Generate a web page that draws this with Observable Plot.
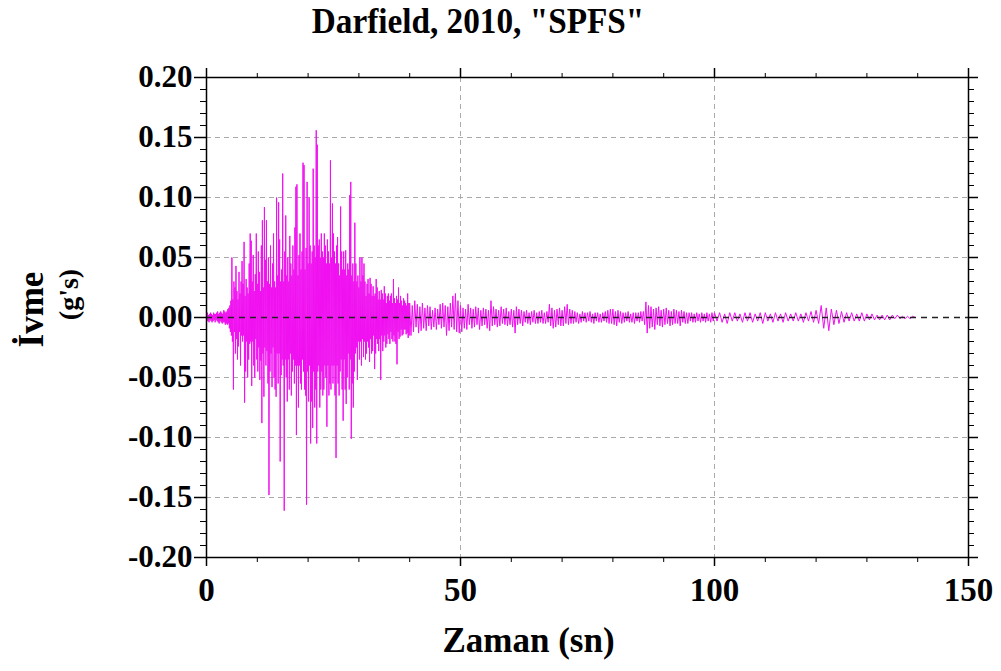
<!DOCTYPE html>
<html>
<head>
<meta charset="utf-8">
<script src="https://cdn.jsdelivr.net/npm/d3@7"></script>
<script src="https://cdn.jsdelivr.net/npm/@observablehq/plot@0.6"></script>
<style>
  body { margin: 0; background: #fff; }
  #wrap { position: relative; width: 1001px; height: 671px; font-family: "Liberation Serif", "Times New Roman", serif; }
  #title { position: relative; height: 56px; }
  #title div { position: absolute; left: 0; width: 956px; top: 4px; text-align: center; font-size: 35px; line-height: 35px; font-weight: bold; color: #000; transform: scaleX(0.95); transform-origin: 478px 0; }
</style>
</head>
<body>
<div id="wrap">
  <div id="title"><div>Darfield, 2010, "SPFS"</div></div>
  <div id="chart"></div>
</div>
<script>
// Strong-motion part: samples every 0.1 s from 0 s (acceleration in g), one row per second
const strongStart = 0;
const strongDt = 0.1;
const strongAccel = [
  0.002,-0.003,0.004,-0.003,0.002,-0.004,0.003,-0.002,0.004,-0.003,
  0.003,-0.004,0.002,-0.003,0.004,-0.002,0.003,-0.004,0.003,-0.002,
  0.004,-0.003,0.005,-0.004,0.003,-0.005,0.004,-0.003,0.005,-0.004,
  0.004,-0.005,0.003,-0.004,0.006,-0.004,0.005,-0.006,0.004,-0.005,
  0.005,-0.006,0.007,-0.005,0.008,-0.009,0.010,-0.012,0.014,-0.015,
  0.050,-0.020,0.015,-0.060,0.030,-0.012,0.025,-0.030,0.043,-0.018,
  0.022,-0.035,0.015,-0.024,0.038,-0.012,0.020,-0.040,0.030,-0.015,
  0.047,-0.020,0.028,-0.015,0.063,-0.071,0.018,-0.045,0.032,-0.020,
  0.025,-0.050,0.020,-0.035,0.045,-0.022,0.070,-0.020,0.064,-0.057,
  0.030,-0.020,0.052,-0.040,0.022,-0.050,0.036,-0.018,0.070,-0.035,
  0.028,-0.045,0.055,-0.025,0.038,-0.052,0.022,-0.036,0.060,-0.088,
  0.081,-0.030,0.025,-0.066,0.092,-0.025,0.048,-0.040,0.081,-0.028,
  0.030,-0.055,0.050,-0.148,0.028,-0.045,0.060,-0.030,0.025,-0.058,
  0.045,-0.025,0.070,-0.050,0.030,-0.060,0.025,-0.066,0.100,-0.030,
  0.035,-0.055,0.096,-0.030,0.065,-0.120,0.030,-0.048,0.040,-0.035,
  0.120,-0.040,0.030,-0.161,0.055,-0.035,0.085,-0.050,0.035,-0.070,
  0.050,-0.035,0.030,-0.060,0.068,-0.030,0.045,-0.065,0.035,-0.045,
  0.060,-0.035,0.040,-0.055,0.075,-0.040,0.109,-0.098,0.111,-0.040,
  0.035,-0.075,0.052,-0.040,0.070,-0.055,0.040,-0.060,0.055,-0.035,
  0.129,-0.045,0.127,-0.060,0.040,-0.065,0.058,-0.156,0.113,-0.045,
  0.045,-0.070,0.100,-0.040,0.060,-0.105,0.045,-0.070,0.055,-0.092,
  0.124,-0.045,0.060,-0.075,0.050,-0.060,0.156,-0.105,0.144,-0.045,
  0.060,-0.040,0.065,-0.075,0.050,-0.060,0.070,-0.045,0.055,-0.065,
  0.050,-0.060,0.070,-0.040,0.060,-0.050,0.045,-0.091,0.065,-0.040,
  0.055,-0.065,0.045,-0.055,0.131,-0.060,0.050,-0.040,0.095,-0.055,
  0.070,-0.040,0.055,-0.065,0.045,-0.117,0.060,-0.040,0.067,-0.055,
  0.045,-0.065,0.035,-0.045,0.0925,-0.035,0.055,-0.060,0.040,-0.086,
  0.055,-0.035,0.040,-0.060,0.056,-0.072,0.035,-0.050,0.045,-0.030,
  0.040,-0.060,0.102,-0.035,0.113,-0.101,0.035,-0.055,0.045,-0.075,
  0.030,-0.045,0.079,-0.030,0.045,-0.025,0.030,-0.052,0.035,-0.020,
  0.025,-0.035,0.050,-0.020,0.030,-0.040,0.050,-0.018,0.035,-0.033,
  0.045,-0.020,0.030,-0.035,0.018,-0.030,0.028,-0.020,0.032,-0.025,
  0.020,-0.037,0.033,-0.018,0.028,-0.030,0.018,-0.028,0.026,-0.015,
  0.018,-0.043,0.020,-0.030,0.032,-0.018,0.025,-0.022,0.015,-0.028,
  0.022,-0.018,0.015,-0.052,0.023,-0.015,0.020,-0.028,0.015,-0.020,
  0.026,-0.015,0.020,-0.025,0.012,-0.022,0.018,-0.014,0.020,-0.018,
  0.014,-0.022,0.018,-0.012,0.020,-0.018,0.012,-0.020,0.032,-0.015,
  0.016,-0.020,0.012,-0.022,0.018,-0.039,0.015,-0.012,0.025,-0.018,
  0.012,-0.016,0.018,-0.010,0.014,-0.015,0.010,-0.014,0.016,-0.010,
  0.014,-0.010,0.012,-0.014,0.010,-0.013,0.020,-0.017,0.012,-0.015
];
// Early coda: samples every 0.25 s from 40 s, one row per 2.5 seconds
const codaStart = 40;
const codaDt = 0.25;
const codaAccel = [
  0.012,-0.015,0.010,-0.012,0.014,-0.008,0.011,-0.013,0.009,-0.011,
  0.012,-0.009,0.008,-0.011,0.010,-0.007,0.009,-0.010,0.006,-0.008,
  0.008,-0.010,0.007,-0.006,0.011,-0.009,0.012,-0.008,0.010,-0.015,
  0.009,-0.011,0.012,-0.008,0.018,-0.010,0.020,-0.012,0.014,-0.013,
  0.010,-0.012,0.008,-0.009,0.007,-0.010,0.011,-0.006,0.008,-0.009,
  0.007,-0.008,0.009,-0.006,0.008,-0.010,0.006,-0.007,0.008,-0.006,
  0.007,-0.009,0.006,-0.011,0.014,-0.007,0.009,-0.006,0.007,-0.008,
  0.006,-0.007,0.009,-0.005,0.007,-0.006,0.008,-0.007,0.005,-0.006,
  0.007,-0.008,0.006,-0.013,0.009,-0.006,0.007,-0.005,0.006,-0.007,
  0.005,-0.004,0.006,-0.005,0.004,-0.006,0.005,-0.004,0.006,-0.005,
  0.004,-0.005,0.005,-0.004,0.006,-0.005,0.004,-0.005,0.005,-0.004,
  0.011,-0.007,0.008,-0.009,0.006,-0.008,0.007,-0.006,0.008,-0.007,
  0.006,-0.007,0.009,-0.005,0.011,-0.006,0.007,-0.005,0.006,-0.005,
  0.005,-0.004,0.004,-0.005,0.003,-0.004,0.005,-0.003,0.004,-0.004,
  0.004,-0.003,0.005,-0.004,0.003,-0.005,0.004,-0.003,0.004,-0.004,
  0.003,-0.004,0.004,-0.003,0.005,-0.004,0.006,-0.005,0.007,-0.005,
  0.007,-0.006,0.005,-0.007,0.006,-0.004,0.005,-0.005,0.004,-0.004,
  0.004,-0.003,0.005,-0.004,0.003,-0.004,0.004,-0.005,0.004,-0.003,
  0.004,-0.004,0.005,-0.003,0.005,-0.006,0.013,-0.013,0.010,-0.009,
  0.009,-0.008,0.007,-0.010,0.008,-0.006,0.009,-0.007,0.006,-0.008,
  0.007,-0.006,0.008,-0.005,0.006,-0.007,0.005,-0.006,0.007,-0.005,
  0.006,-0.005,0.005,-0.007,0.006,-0.004,0.005,-0.005,0.004,-0.005,
  0.004,-0.003,0.004,-0.004,0.003,-0.004,0.004,-0.003,0.003,-0.004,
  0.004,-0.003,0.003,-0.004,0.004,-0.003,0.003,-0.004,0.004,-0.003
];
// Late coda: samples every 0.5 s from 100 s, one row per 5 seconds
const tailStart = 100;
const tailDt = 0.5;
const tailAccel = [
  0.004,-0.003,0.004,-0.004,0.003,-0.005,0.004,-0.003,0.004,-0.003,
  0.003,-0.004,0.004,-0.003,0.004,-0.004,0.003,-0.003,0.004,-0.005,
  0.004,-0.003,0.003,-0.004,0.004,-0.003,0.003,-0.004,0.004,-0.003,
  0.003,-0.003,0.004,-0.003,0.003,-0.004,0.004,-0.003,0.005,-0.004,
  0.006,-0.005,0.010,-0.009,0.008,-0.011,0.007,-0.006,0.006,-0.005,
  0.005,-0.004,0.004,-0.003,0.004,-0.003,0.003,-0.003,0.004,-0.003,
  0.003,-0.002,0.003,-0.002,0.002,-0.002,0.002,-0.002,0.002,-0.002,
  0.002,-0.001,0.002,-0.001,0.001,-0.001,0.001,-0.001,0.001,0.000
];

const xTickLabels = [0, 50, 100, 150];
const yTickLabels = [-0.20, -0.15, -0.10, -0.05, 0.00, 0.05, 0.10, 0.15, 0.20];
const xGridLines = [50, 100];
const yGridLines = [-0.15, -0.10, -0.05, 0.05, 0.10, 0.15];
const xMinor = d3.range(0, 151, 10);
const yMinor = d3.range(-20, 21, 1).map(d => d / 100);

const rows = [
  ...strongAccel.map((a, i) => ({t: strongStart + i * strongDt, a})),
  ...codaAccel.map((a, i) => ({t: codaStart + i * codaDt, a})),
  ...tailAccel.map((a, i) => ({t: tailStart + i * tailDt, a}))
];

const fmt = d => (Math.abs(d) < 1e-9 ? 0 : d).toFixed(2);
const blank = () => "";

const chart = Plot.plot({
  width: 1001,
  height: 615,
  marginTop: 21,
  marginBottom: 114,
  marginLeft: 206,
  marginRight: 33,
  style: {fontFamily: "'Liberation Serif', 'Times New Roman', serif", fontWeight: "bold", color: "#000", background: "#fff", overflow: "visible"},
  x: {domain: [0, 150], axis: null},
  y: {domain: [-0.2, 0.2], axis: null},
  marks: [
    Plot.gridX(xGridLines, {stroke: "#aaa", strokeOpacity: 1, strokeDasharray: "5,4", strokeWidth: 1}),
    Plot.gridY(yGridLines, {stroke: "#aaa", strokeOpacity: 1, strokeDasharray: "5,4", strokeWidth: 1}),
    Plot.line(rows, {x: "t", y: "a", stroke: "#f010f0", strokeWidth: 1}),
    Plot.ruleY([0], {stroke: "#222", strokeDasharray: "6,5", strokeWidth: 1.5}),
    Plot.frame({stroke: "#000", strokeWidth: 1.5}),
    // minor ticks
    Plot.axisX({anchor: "bottom", ticks: xMinor, tickSize: 5, tickFormat: blank, label: null}),
    Plot.axisX({anchor: "top", ticks: xMinor, tickSize: 5, tickFormat: blank, label: null}),
    Plot.axisY({anchor: "left", ticks: yMinor, tickSize: 6, tickFormat: blank, label: null}),
    Plot.axisY({anchor: "right", ticks: yMinor, tickSize: 5, tickFormat: blank, label: null}),
    // major ticks with labels
    Plot.axisX({anchor: "bottom", ticks: xTickLabels, tickSize: 9, tickPadding: 11, tickFormat: d => String(d), fontSize: 33, strokeWidth: 1.5, label: null}),
    Plot.axisX({anchor: "top", ticks: xTickLabels, tickSize: 10, tickFormat: blank, strokeWidth: 1.5, label: null}),
    Plot.axisY({anchor: "left", ticks: yTickLabels, tickSize: 12, tickPadding: 2, tickFormat: fmt, fontSize: 31, strokeWidth: 1.5, label: null}),
    Plot.axisY({anchor: "right", ticks: yTickLabels, tickSize: 9, tickFormat: blank, strokeWidth: 1.5, label: null}),
    // axis titles
    Plot.text(["Zaman (sn)"], {frameAnchor: "bottom", text: d => d, textAnchor: "middle", lineAnchor: "middle", dx: -59, dy: 83, fontSize: 35, fontWeight: "bold"}),
    Plot.text(["İvme"], {frameAnchor: "left", text: d => d, textAnchor: "middle", lineAnchor: "middle", rotate: -90, dx: -175, dy: -8, fontSize: 35, fontWeight: "bold"}),
    Plot.text(["(g's)"], {frameAnchor: "left", text: d => d, textAnchor: "middle", lineAnchor: "middle", rotate: -90, dx: -137, dy: -23, fontSize: 28, fontWeight: "bold"})
  ]
});
document.getElementById("chart").appendChild(chart);
</script>
</body>
</html>
